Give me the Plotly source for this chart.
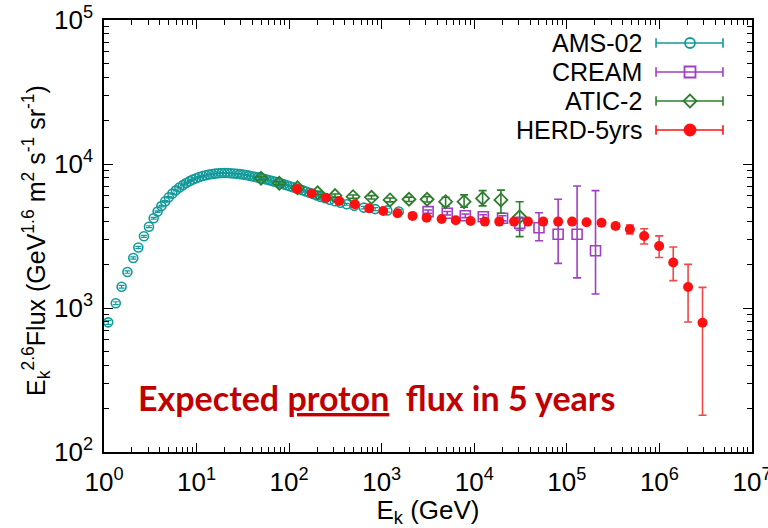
import plotly.graph_objects as go

# ---------------- data ----------------
ams_E = [1.11, 1.34, 1.55, 1.79, 2.07, 2.35, 2.70, 3.06, 3.44, 3.79, 4.17, 4.57, 5.01, 5.48,
         5.98, 6.52, 7.10, 7.73, 8.40, 9.13, 9.90, 10.7, 11.6, 12.6, 13.6, 14.7, 15.9, 17.2,
         18.6, 20.1, 21.7, 23.4, 25.3, 27.3, 29.4, 31.7, 34.1, 36.8, 39.6, 42.6, 45.8, 49.3,
         53.0, 57.0, 61.3, 65.9, 70.9, 76.2, 81.9, 88.1, 94.8, 102, 110, 119, 129, 140, 152,
         166, 182, 200, 220, 245, 275, 312, 358, 418, 506, 640, 850, 1150, 1530]
ams_F = [795, 1080, 1406, 1778, 2224, 2630, 3148, 3670, 4200, 4670, 5100, 5500, 5880, 6230,
         6560, 6860, 7130, 7370, 7600, 7800, 7970, 8120, 8250, 8360, 8450, 8520, 8580, 8620,
         8650, 8660, 8650, 8630, 8600, 8560, 8510, 8450, 8380, 8310, 8230, 8150, 8070, 7980,
         7890, 7800, 7710, 7610, 7520, 7420, 7320, 7220, 7120, 7010, 6900, 6790, 6680, 6560, 6440,
         6310, 6180, 6040, 5910, 5780, 5640, 5510, 5380, 5250, 5120, 4980, 4860, 4760, 4680]
ams_err = [25, 25, 30, 35, 40, 45, 50, 55, 60, 60, 60, 60, 60, 60,
           60, 60, 60, 60, 60, 60, 60, 60, 60, 60, 60, 60, 60, 60,
           60, 60, 60, 60, 60, 60, 60, 60, 60, 60, 60, 60, 60, 60,
           60, 60, 60, 60, 60, 60, 60, 60, 60, 60, 60, 60, 60, 60, 60,
           60, 60, 60, 60, 60, 60, 60, 70, 80, 90, 100, 110, 130, 160]

cream_E = [3170, 5100, 8000, 12500, 20200, 31000, 50000, 80500, 129000, 204000]
cream_F = [4670, 4550, 4370, 4300, 4200, 3870, 3610, 3250, 3250, 2500]
cream_up = [120, 130, 130, 140, 170, 400, 980, 2440, 3780, 4030]
cream_dn = [120, 130, 130, 140, 170, 400, 680, 1210, 1630, 1250]

atic_E = [49.7, 78.2, 123, 203, 313, 490, 776, 1230, 1970, 3090, 4900, 7760, 12300, 19400, 30900]
atic_F = [7950, 7340, 6840, 6310, 6030, 5930, 5870, 5630, 5690, 5690, 5470, 5470, 5770, 5630, 4300]
atic_up = [200, 180, 170, 160, 160, 160, 160, 170, 200, 250, 400, 630, 760, 960, 1170]
atic_dn = [200, 180, 170, 160, 160, 160, 160, 170, 200, 250, 400, 460, 650, 1080, 1170]

herd_E = [122, 175, 250, 347, 513, 733, 1038, 1480, 2153, 3055, 4440, 6310, 9120, 13000,
          18600, 26900, 38000, 55500, 80500, 114000, 163000, 237000, 336000, 479000,
          684000, 993000, 1410000, 2040000, 2920000]
herd_F = [6700, 6250, 5830, 5530, 5250, 4920, 4720, 4550, 4360, 4240, 4150, 4070, 4020, 3980,
          3980, 3980, 3980, 3980, 3980, 3980, 3940, 3910, 3710, 3520, 3160, 2690, 2070, 1400, 790]
herd_up = [20, 20, 20, 20, 20, 20, 20, 20, 20, 20, 20, 20, 20, 20,
           20, 20, 30, 30, 40, 50, 60, 100, 150, 250, 390, 480, 580, 610, 600]
herd_dn = [20, 20, 20, 20, 20, 20, 20, 20, 20, 20, 20, 20, 20, 20,
           20, 20, 30, 30, 40, 50, 60, 100, 150, 250, 380, 450, 520, 600, 610]

x_tickvals = [1, 10, 100, 1e3, 1e4, 1e5, 1e6, 1e7]
x_ticktext = ["10<sup>%d</sup>" % i for i in range(8)]
y_tickvals = [1e2, 1e3, 1e4, 1e5]
y_ticktext = ["10<sup>%d</sup>" % i for i in range(2, 6)]

legend_names = ["AMS-02", "CREAM", "ATIC-2", "HERD-5yrs"]

C_AMS = "#139a9a"
C_CREAM = "#a23ec2"
C_ATIC = "#2e7d2e"
C_HERD = "#ff1010"
C_HERD_BAR = "#f04848"

FONT = "Liberation Sans, Arial, sans-serif"

fig = go.Figure()

fig.add_trace(go.Scatter(
    x=ams_E, y=ams_F, mode="markers", name="AMS-02",
    marker=dict(symbol="circle-open", size=9, color=C_AMS, line=dict(width=1.6, color=C_AMS)),
    error_y=dict(type="data", array=ams_err, color=C_AMS, thickness=1.2, width=3),
))
fig.add_trace(go.Scatter(
    x=cream_E, y=cream_F, mode="markers", name="CREAM",
    marker=dict(symbol="square-open", size=10, color=C_CREAM, line=dict(width=1.6, color=C_CREAM)),
    error_y=dict(type="data", array=cream_up, arrayminus=cream_dn, color=C_CREAM, thickness=1.6, width=4),
))
fig.add_trace(go.Scatter(
    x=atic_E, y=atic_F, mode="markers", name="ATIC-2",
    marker=dict(symbol="diamond-open", size=10, color=C_ATIC, line=dict(width=1.8, color=C_ATIC)),
    error_y=dict(type="data", array=atic_up, arrayminus=atic_dn, color=C_ATIC, thickness=1.6, width=4),
))
fig.add_trace(go.Scatter(
    x=herd_E, y=herd_F, mode="markers", name="HERD-5yrs",
    marker=dict(symbol="circle", size=10, color=C_HERD),
    error_y=dict(type="data", array=herd_up, arrayminus=herd_dn, color=C_HERD_BAR, thickness=1.6, width=4),
))

# ---- manual legend (text left, sample right) on an overlay axis ----
leg_y = [0.9468, 0.8796, 0.8125, 0.7454]
leg_cols = [C_AMS, C_CREAM, C_ATIC, C_HERD]
leg_syms = ["circle-open", "square-open", "diamond-open", "circle"]
leg_sizes = [10, 11, 10, 11]
x0, x1, xm = 0.8519, 0.9552, 0.9043
for name, yy, col, sym, sz in zip(legend_names, leg_y, leg_cols, leg_syms, leg_sizes):
    fig.add_shape(type="line", xref="paper", yref="paper", x0=x0, x1=x1, y0=yy, y1=yy,
                  line=dict(color=col, width=1.6))
    for xc in (x0, x1):
        fig.add_shape(type="line", xref="paper", yref="paper", x0=xc, x1=xc,
                      y0=yy - 0.011, y1=yy + 0.011, line=dict(color=col, width=1.6))
    fig.add_trace(go.Scatter(
        x=[xm], y=[yy], xaxis="x2", yaxis="y2", mode="markers", showlegend=False,
        hoverinfo="skip",
        marker=dict(symbol=sym, size=sz, color=col, line=dict(width=1.8, color=col)),
    ))
    fig.add_annotation(xref="paper", yref="paper", x=0.8333, y=yy, text=name,
                       showarrow=False, xanchor="right", yanchor="middle",
                       font=dict(family=FONT, size=25, color="black"))

# ---- overlaid caption ----
fig.add_annotation(xref="paper", yref="paper", x=0.049, y=0.126,
                   text="<b>Expected <u>proton</u>  flux in 5 years</b>",
                   showarrow=False, xanchor="left", yanchor="middle",
                   font=dict(family="Lato, Carlito, sans-serif", size=34, color="#c00000"))

# ---- y-axis title (rotated) ----
fig.add_annotation(xref="paper", yref="paper", x=-0.104, y=0.49, textangle=-90,
                   text="E<sub>k</sub><sup>2.6</sup>Flux (GeV<sup>1.6</sup> m<sup>2</sup> s<sup>-1</sup> sr<sup>-1</sup>)",
                   showarrow=False, xanchor="center", yanchor="middle",
                   font=dict(family=FONT, size=25, color="black"))

axis_common = dict(
    type="log", showline=True, linecolor="black", linewidth=1.5, mirror="ticks",
    ticks="inside", ticklen=9, tickwidth=1.3, tickcolor="black",
    showgrid=False, zeroline=False, ticklabeloverflow="allow", automargin=False,
    tickfont=dict(family=FONT, size=26, color="black"),
)

x_minor = [m * 10 ** d for d in range(0, 7) for m in range(2, 10)]
y_minor = [m * 10 ** d for d in range(2, 5) for m in range(2, 10)]

fig.update_layout(
    width=768, height=528,
    margin=dict(l=104, r=16, t=20, b=76),
    paper_bgcolor="white", plot_bgcolor="white",
    showlegend=False,
    xaxis=dict(
        axis_common, range=[-0.00001, 7.00001], tickvals=x_tickvals, ticktext=x_ticktext,
        ticklabelstandoff=6,
        minor=dict(tickvals=x_minor, ticks="inside", ticklen=5, tickwidth=1, tickcolor="black"),
        title=dict(text="E<sub>k</sub> (GeV)", font=dict(family=FONT, size=26, color="black"),
                   standoff=8),
    ),
    yaxis=dict(
        axis_common, range=[1.99999, 5.00001], tickvals=y_tickvals, ticktext=y_ticktext,
        ticklabelstandoff=4,
        minor=dict(tickvals=y_minor, ticks="inside", ticklen=5, tickwidth=1, tickcolor="black"),
    ),
    xaxis2=dict(overlaying="x", range=[0, 1], visible=False, fixedrange=True),
    yaxis2=dict(overlaying="y", range=[0, 1], visible=False, fixedrange=True),
)

fig.write_html("out.html")
